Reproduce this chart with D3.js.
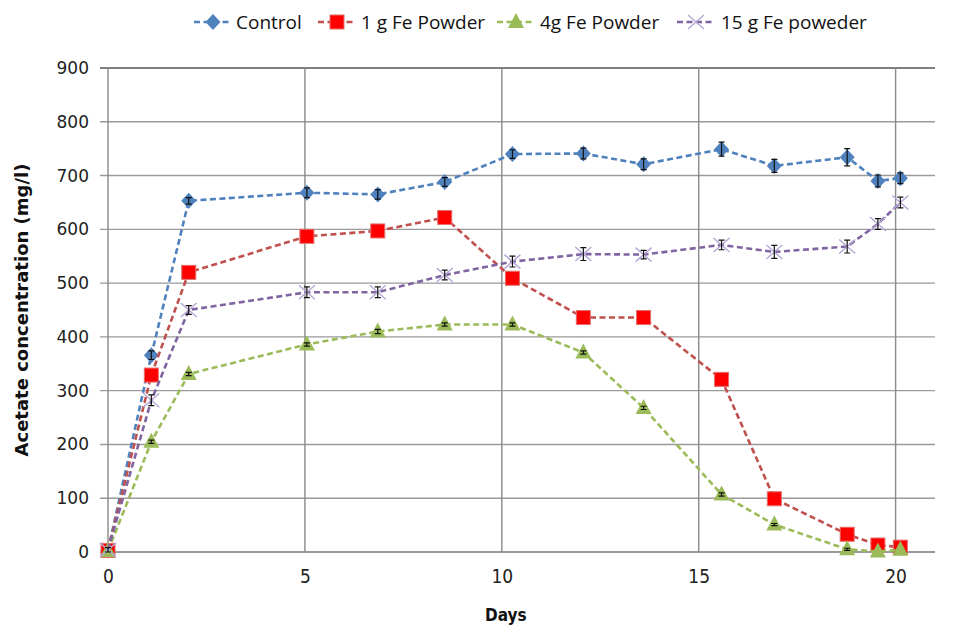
<!DOCTYPE html>
<html>
<head>
<meta charset="utf-8">
<script src="https://cdn.jsdelivr.net/npm/d3@7"></script>
<style>
  body { margin: 0; background: #fff; }
  svg { display: block; }
</style>
</head>
<body>
<svg id="chart" width="961" height="625"></svg>
<script>
// data
const days = [0, 1.1, 2.05, 5.05, 6.85, 8.55, 10.27, 12.07, 13.6, 15.58, 16.92, 18.77, 19.55, 20.12]
const control = [3, 366, 653, 668, 665, 688, 740, 741, 721, 749, 718, 734, 690, 695]
const fe1g = [3, 329, 520, 587, 597, 622, 509, 436, 436, 321, 99, 33, 13, 9]
const fe4g = [2, 205, 331, 386, 410, 423, 423, 371, 268, 107, 51, 5, 1, 4]
const fe15g = [4, 282, 450, 483, 483, 515, 540, 554, 553, 571, 558, 568, 610, 650]
const controlErr = [4, 8, 6, 9, 9, 8, 8, 10, 10, 13, 12, 16, 11, 10]
const fe15gErr = [4, 10, 8, 10, 10, 9, 10, 12, 8, 9, 12, 12, 10, 10]
const fe4gErr = [0, 3, 3, 3, 4, 3, 3, 3, 3, 3, 2, 2, 0, 0]
const xTicks = [0, 5, 10, 15, 20]
const yTicks = [0, 100, 200, 300, 400, 500, 600, 700, 800, 900]

const series = [
  { name: 'Control', values: control, err: controlErr, line: '#4f81bd', marker: 'diamond' },
  { name: '1 g Fe Powder', values: fe1g, err: null, line: '#c0504d', marker: 'square' },
  { name: '4g Fe Powder', values: fe4g, err: fe4gErr, line: '#9bbb59', marker: 'triangle' },
  { name: '15 g Fe poweder', values: fe15g, err: fe15gErr, line: '#8064a2', marker: 'cross' }
]

const svg = d3.select('#chart')
const margin = { left: 108, right: 26, top: 68, bottom: 73 }
const width = 961 - margin.left - margin.right
const height = 625 - margin.top - margin.bottom

const x = d3.scaleLinear().domain([0, 21]).range([margin.left, margin.left + width])
const y = d3.scaleLinear().domain([0, 900]).range([margin.top + height, margin.top])

// gridlines
const grid = svg.append('g')
grid.selectAll('.hgrid')
  .data(yTicks)
  .join('line')
  .attr('x1', margin.left - 8)
  .attr('x2', margin.left + width)
  .attr('y1', d => y(d))
  .attr('y2', d => y(d))
  .attr('stroke', d => d === 900 ? '#555' : '#9a9a9a')
  .attr('stroke-width', d => d === 0 ? 2 : 1.4)

grid.selectAll('.vgrid')
  .data(xTicks)
  .join('line')
  .attr('x1', d => x(d))
  .attr('x2', d => x(d))
  .attr('y1', margin.top)
  .attr('y2', y(0))
  .attr('stroke', '#8a8a8a')
  .attr('stroke-width', 1.4)

// axes labels via d3 axes, lines hidden
const yAxis = svg.append('g')
  .attr('transform', `translate(${margin.left - 8},0)`)
  .call(d3.axisLeft(y).tickValues(yTicks).tickSize(0).tickPadding(11))
yAxis.select('.domain').remove()
yAxis.selectAll('text')
  .attr('font-family', 'DejaVu Sans, Verdana, sans-serif')
  .attr('font-size', 17)
  .attr('fill', '#222')

const xAxis = svg.append('g')
  .attr('transform', `translate(0,${y(0)})`)
  .call(d3.axisBottom(x).tickValues(xTicks).tickSize(0).tickPadding(18))
xAxis.select('.domain').remove()
xAxis.selectAll('text')
  .attr('font-family', '"Liberation Sans Narrow", "DejaVu Sans Condensed", sans-serif')
  .attr('font-size', 19)
  .attr('fill', '#222')

svg.append('text')
  .attr('transform', `translate(28,${margin.top + height / 2}) rotate(-90)`)
  .attr('text-anchor', 'middle')
  .attr('font-family', 'DejaVu Sans, Verdana, sans-serif')
  .attr('font-weight', 'bold')
  .attr('font-size', 18)
  .attr('fill', '#111')
  .text('Acetate  concentration (mg/l)')

svg.append('text')
  .attr('x', x(10) + 4)
  .attr('y', 621)
  .attr('text-anchor', 'middle')
  .attr('font-family', '"Liberation Sans Narrow", "DejaVu Sans Condensed", sans-serif')
  .attr('font-weight', 'bold')
  .attr('font-size', 17)
  .attr('fill', '#111')
  .text('Days')

// marker shapes
function drawMarker(g, type, cx, cy) {
  if (type === 'diamond') {
    g.append('path')
      .attr('d', `M${cx},${cy - 8}L${cx + 7.5},${cy}L${cx},${cy + 8}L${cx - 7.5},${cy}Z`)
      .attr('fill', '#4f81bd')
  } else if (type === 'square') {
    g.append('rect')
      .attr('x', cx - 7).attr('y', cy - 7)
      .attr('width', 14).attr('height', 14)
      .attr('fill', '#ff0000')
      .attr('stroke', '#e46c6a')
      .attr('stroke-width', 1)
  } else if (type === 'triangle') {
    g.append('path')
      .attr('d', `M${cx},${cy - 9}L${cx + 8},${cy + 6}L${cx - 8},${cy + 6}Z`)
      .attr('fill', '#9bbb59')
  } else {
    g.append('path')
      .attr('d', `M${cx - 8},${cy - 7}L${cx + 8},${cy + 7}M${cx - 8},${cy + 7}L${cx + 8},${cy - 7}`)
      .attr('stroke', '#b4a7d6')
      .attr('stroke-width', 1.4)
      .attr('fill', 'none')
  }
}

const line = d3.line()
  .x((d, i) => x(days[i]))
  .y(d => y(d))

series.forEach(s => {
  const g = svg.append('g')
  g.append('path')
    .datum(s.values)
    .attr('d', line)
    .attr('fill', 'none')
    .attr('stroke', s.line)
    .attr('stroke-width', 2.6)
    .attr('stroke-dasharray', '6,3.5')

  s.values.forEach((v, i) => drawMarker(g, s.marker, x(days[i]), y(v)))

  if (s.err) {
    s.values.forEach((v, i) => {
      const e = s.err[i]
      if (!e) return
      const cx = x(days[i])
      g.append('path')
        .attr('d', `M${cx},${y(v + e)}V${y(v - e)}M${cx - 3},${y(v + e)}H${cx + 3}M${cx - 3},${y(v - e)}H${cx + 3}`)
        .attr('stroke', '#111')
        .attr('stroke-width', 1.2)
        .attr('fill', 'none')
    })
  }
})

// legend
const legendX = [194, 318, 497, 677]
const legendTextX = [236, 361, 540, 721]
const legend = svg.append('g')
series.forEach((s, i) => {
  const lx = legendX[i], ly = 22
  legend.append('line')
    .attr('x1', lx).attr('x2', lx + 38)
    .attr('y1', ly).attr('y2', ly)
    .attr('stroke', s.line)
    .attr('stroke-width', 2.6)
    .attr('stroke-dasharray', '6,3.5')
  drawMarker(legend, s.marker, lx + 19, ly)
  legend.append('text')
    .attr('x', legendTextX[i])
    .attr('y', ly + 7)
    .attr('font-family', '"Open Sans", "Noto Sans", sans-serif')
    .attr('font-size', 19)
    .attr('fill', '#111')
    .text(s.name)
})
</script>
</body>
</html>
